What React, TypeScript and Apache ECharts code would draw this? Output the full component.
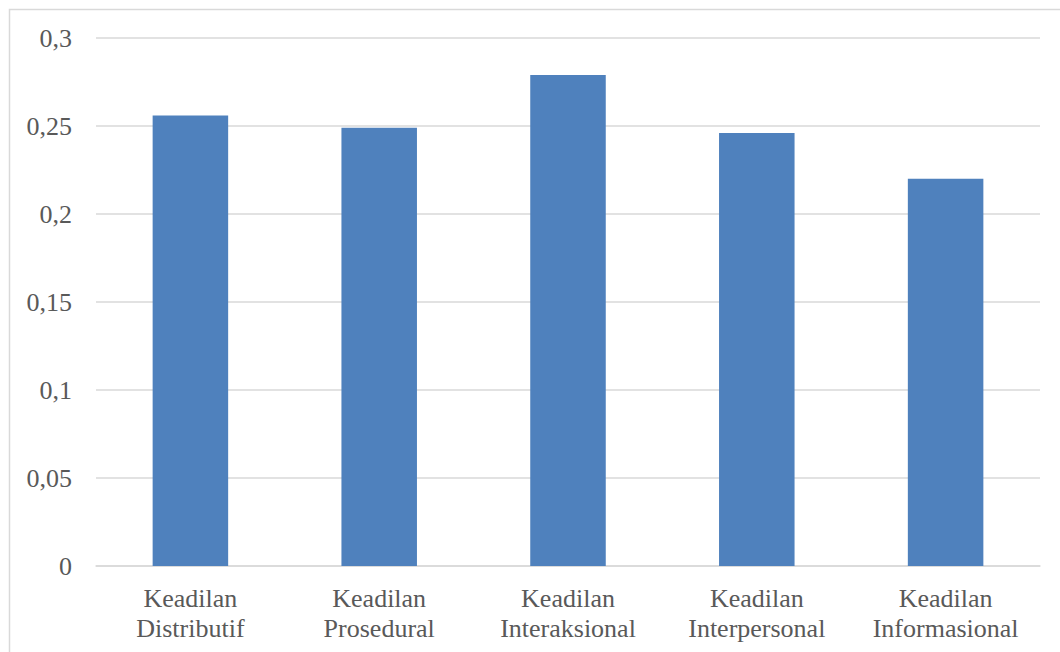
import React, { useEffect, useRef } from "react";
import * as echarts from "echarts";

const categories = [
  "Keadilan\nDistributif",
  "Keadilan\nProsedural",
  "Keadilan\nInteraksional",
  "Keadilan\nInterpersonal",
  "Keadilan\nInformasional",
];
const values = [0.256, 0.249, 0.279, 0.246, 0.22];
const yTicks = { min: 0, max: 0.3, interval: 0.05 };

const FONT = '"Liberation Serif", "Times New Roman", serif';
const TEXT_COLOR = "#595959";
const GRID_COLOR = "#d9d9d9";
const BAR_COLOR = "#4f81bd";

export default function App() {
  const ref = useRef<HTMLDivElement>(null);

  useEffect(() => {
    document.body.style.margin = "0";
    if (!ref.current) return;
    const chart = echarts.init(ref.current, undefined, { renderer: "svg" });
    chart.setOption({
      animation: false,
      backgroundColor: "#ffffff",
      graphic: [
        {
          type: "rect",
          shape: { x: 9.5, y: 9.5, width: 1100, height: 700 },
          style: { fill: "none", stroke: GRID_COLOR, lineWidth: 1.5 },
          silent: true,
        },
      ],
      grid: { left: 96, right: 20, top: 38, bottom: 86, containLabel: false },
      xAxis: {
        type: "category",
        data: categories,
        axisLine: { show: true, lineStyle: { color: GRID_COLOR, width: 1.5 } },
        axisTick: { show: false },
        axisLabel: {
          color: TEXT_COLOR,
          fontFamily: FONT,
          fontSize: 26,
          lineHeight: 30,
          margin: 17,
          interval: 0,
        },
      },
      yAxis: {
        type: "value",
        min: yTicks.min,
        max: yTicks.max,
        interval: yTicks.interval,
        axisLine: { show: false },
        axisTick: { show: false },
        splitLine: { lineStyle: { color: GRID_COLOR, width: 1.5 } },
        axisLabel: {
          color: TEXT_COLOR,
          fontFamily: FONT,
          fontSize: 26,
          margin: 24,
          formatter: (v: number) => String(Math.round(v * 100) / 100).replace(".", ","),
        },
      },
      series: [
        {
          type: "bar",
          data: values,
          barWidth: "40%",
          itemStyle: { color: BAR_COLOR },
        },
      ],
    });
    return () => chart.dispose();
  }, []);

  return <div ref={ref} style={{ width: 1060, height: 652 }} />;
}
